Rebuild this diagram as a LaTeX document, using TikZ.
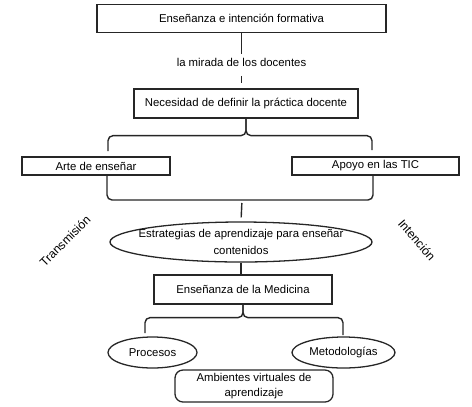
\documentclass[tikz,border=0pt]{standalone}
\usepackage{fontspec}
\setmainfont{Liberation Sans}
\usetikzlibrary{shapes.geometric}

\begin{document}
\begin{tikzpicture}[
  x=0.3mm, y=-0.3mm,
  font=\fontsize{9.7}{11}\selectfont,
  link/.style={draw=black!85, line width=1.2pt},
  brace/.style={link, rounded corners=1.5mm},
  box/.style={
    rectangle,
    draw=black!85,
    line width=1.1pt,
    fill=white,
    inner sep=0pt,
    minimum height=8.7mm,
    align=center
  },
  oval/.style={
    ellipse,
    draw=black!85,
    line width=1.1pt,
    fill=white,
    inner sep=1pt,
    minimum height=9.3mm
  },
  soft/.style={box, rounded corners=2.4mm, minimum height=9.6mm},
  twoline/.style={align=center, inner sep=0pt},
  aside/.style={inner sep=0pt, font=\fontsize{10.4}{12}\selectfont}
]
\useasboundingbox (0,0) rectangle (472,406);

% Top of the chain, with the label sitting on the connector.
\node[box, minimum width=86.7mm, minimum height=8.4mm] (title) at (241.5,18.5)
  {Enseñanza e intención formativa};
\node[inner sep=3pt] (gaze) at (241.5,62) {la mirada de los docentes};
\node[box, minimum width=67.2mm] (need) at (246,103.5)
  {Necesidad de definir la práctica docente};
\draw[link] (title.south) -- (gaze.north);
\draw[link, shorten <=1.8mm, shorten >=1.5mm] (gaze.south) -- (gaze.south |- need.north);

% Two branches joined by braces above and below.
\node[box, minimum width=44.4mm, minimum height=5.4mm] (art) at (96,166) {Arte de enseñar};
\node[box, minimum width=50.1mm, minimum height=5.4mm] (ict) at (375.5,166) {Apoyo en las TIC};
\coordinate (b1l) at (108,151);
\coordinate (b1r) at (372,150);
\draw[brace] (need.south) -- ++(0,17) -| (b1l);
\draw[brace] (need.south) -- ++(0,17) -| (b1r);

\coordinate (b2l) at (107,175);
\coordinate (b2m) at (242,200);
\coordinate (b2r) at (373,175);
\draw[brace] (b2l) |- (b2m) -| (b2r);

% Central oval and the medicine box.
\node[oval, minimum width=78.6mm, minimum height=12mm] (strat) at (241,242) {};
\node[twoline, font=\fontsize{9.7}{14.5}\selectfont] (strattext) at (strat)
  {Estrategias de aprendizaje para enseñar\\contenidos};
\draw[link, shorten <=0.9mm, shorten >=1.2mm] (b2m) -- (strat.north);
\node[box, minimum width=53.4mm] (med) at (243,289.5) {Enseñanza de la Medicina};
\draw[link] (strat.south) -- (strat.south |- med.north);

% Side labels.
\node[aside, rotate=45] (trans) at (65,241) {Transmisión};
\node[aside, rotate=-49] (intent) at (417,240) {Intención};

% Lower branches.
\node[oval, minimum width=26.7mm] (proc) at (152.5,352.5) {Procesos};
\node[oval, minimum width=30.9mm] (meth) at (343.5,352.5) {Metodologías};
\coordinate (b3l) at (145,333);
\coordinate (b3r) at (343,335);
\draw[brace] (med.south) -- ++(0,13) -| (b3l);
\draw[brace] (med.south) -- ++(0,13) -| (b3r);
\node[soft, minimum width=47.4mm, font=\fontsize{9.7}{12.8}\selectfont] (virt) at (254,386)
  {Ambientes virtuales de\\aprendizaje};

\end{tikzpicture}
\end{document}
